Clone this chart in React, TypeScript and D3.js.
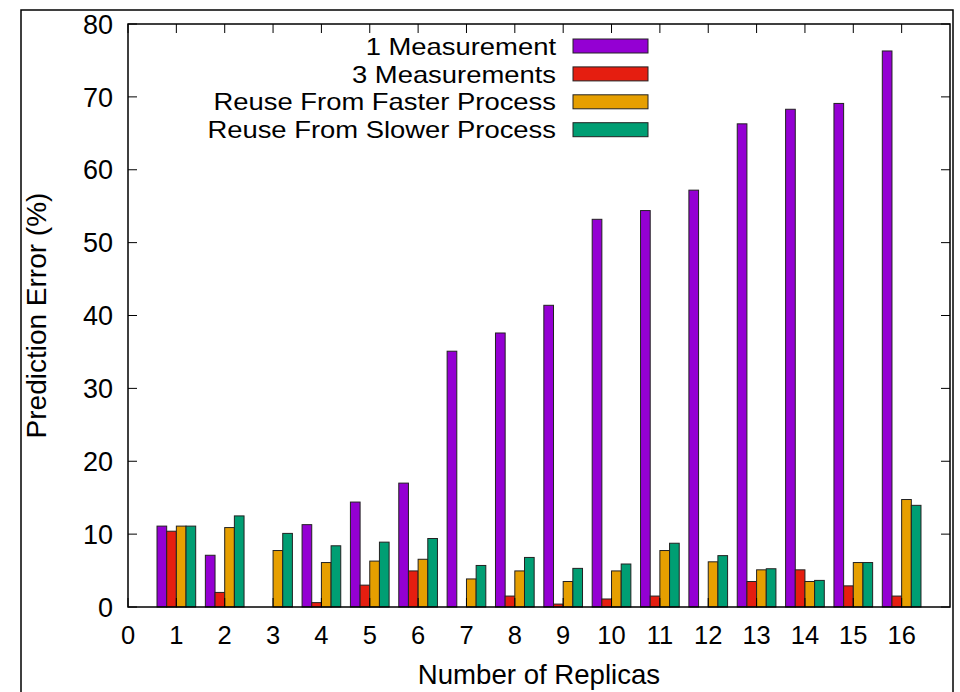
import React from "react";
import * as d3 from "d3";

const categories = [1, 2, 3, 4, 5, 6, 7, 8, 9, 10, 11, 12, 13, 14, 15, 16];
const seriesNames = [
  "1 Measurement",
  "3 Measurements",
  "Reuse From Faster Process",
  "Reuse From Slower Process",
];
const oneMeasurement = [11.1, 7.1, 0, 11.3, 14.4, 17.0, 35.1, 37.6, 41.4, 53.2, 54.4, 57.2, 66.3, 68.3, 69.1, 76.3];
const threeMeasurements = [10.4, 2.0, 0, 0.6, 3.0, 4.95, 0, 1.5, 0.4, 1.1, 1.5, 0, 3.5, 5.1, 2.9, 1.5];
const reuseFaster = [11.1, 10.9, 7.75, 6.1, 6.3, 6.55, 3.85, 4.95, 3.5, 4.95, 7.75, 6.2, 5.1, 3.5, 6.1, 14.75];
const reuseSlower = [11.1, 12.5, 10.1, 8.4, 8.9, 9.4, 5.7, 6.8, 5.3, 5.9, 8.75, 7.05, 5.25, 3.65, 6.1, 13.95];
const colors = ["#9400d3", "#e51e10", "#e69f00", "#009e73"];
const xTicks = d3.range(0, 17);
const yTicks = [0, 10, 20, 30, 40, 50, 60, 70, 80];

const allSeries = [oneMeasurement, threeMeasurements, reuseFaster, reuseSlower];

function measure(text: string, size: number): number {
  if (typeof document === "undefined") return text.length * size * 0.5;
  const c = document.createElement("canvas");
  const ctx = c.getContext("2d");
  if (!ctx) return text.length * size * 0.5;
  ctx.font = `${size}px 'Liberation Sans', Arial, sans-serif`;
  return ctx.measureText(text).width;
}

export default function App() {
  const W = 960;
  const H = 692;
  const left = 128;
  const right = 950;
  const top = 24;
  const bottom = 607;
  const x = d3.scaleLinear().domain([0, 17]).range([left, right]);
  const y = d3.scaleLinear().domain([0, 80]).range([bottom, top]);
  const barW = 0.2;
  const offsets = [-0.4, -0.2, 0, 0.2];
  const font = "'Liberation Sans', Arial, sans-serif";
  const tickLen = 9;

  return (
    <svg
      width={W}
      height={H}
      style={{ position: "absolute", left: 0, top: 0, background: "#fff" }}
      fontFamily={font}
    >
      <rect x={0} y={0} width={W} height={H} fill="#fff" />
      <rect x={21} y={10} width={932} height={700} fill="none" stroke="#000" strokeWidth={1.5} />
      {allSeries.map((vals, si) =>
        vals.map((v, i) =>
          v > 0 ? (
            <rect
              key={`b-${si}-${i}`}
              x={x(categories[i] + offsets[si])}
              y={y(v)}
              width={x(barW) - x(0)}
              height={y(0) - y(v)}
              fill={colors[si]}
              stroke="#222"
              strokeWidth={1}
            />
          ) : null
        )
      )}
      {yTicks.map((t) => (
        <g key={`yt-${t}`}>
          <line x1={left} x2={left + tickLen} y1={y(t)} y2={y(t)} stroke="#000" strokeWidth={1} />
          <line x1={right} x2={right - tickLen} y1={y(t)} y2={y(t)} stroke="#000" strokeWidth={1} />
          <text x={113} y={y(t)} dy="0.36em" textAnchor="end" fontSize={27} fill="#000">
            {t}
          </text>
        </g>
      ))}
      {xTicks.map((t) => (
        <g key={`xt-${t}`}>
          <line x1={x(t)} x2={x(t)} y1={bottom} y2={bottom - tickLen} stroke="#000" strokeWidth={1} />
          <line x1={x(t)} x2={x(t)} y1={top} y2={top + tickLen} stroke="#000" strokeWidth={1} />
          <text x={x(t)} y={644} textAnchor="middle" fontSize={25.5} fill="#000">
            {t}
          </text>
        </g>
      ))}
      <rect x={left} y={top} width={right - left} height={bottom - top} fill="none" stroke="#000" strokeWidth={1.5} />
      {seriesNames.map((name, i) => {
        const cy = 46 + i * 27.9;
        const len = measure(name, 27.4);
        return (
          <g key={`lg-${i}`}>
            <text
              x={556}
              y={cy}
              dy="0.36em"
              textAnchor="end"
              fontSize={24}
              textLength={len}
              lengthAdjust="spacingAndGlyphs"
              fill="#000"
            >
              {name}
            </text>
            <rect x={573} y={cy - 7} width={75} height={14} fill={colors[i]} stroke="#222" strokeWidth={1} />
          </g>
        );
      })}
      <text
        transform={`translate(46,${(top + bottom) / 2}) rotate(-90)`}
        textAnchor="middle"
        fontSize={28}
        fill="#000"
      >
        Prediction Error (%)
      </text>
      <text x={(left + right) / 2} y={684} textAnchor="middle" fontSize={27.6} fill="#000">
        Number of Replicas
      </text>
    </svg>
  );
}
